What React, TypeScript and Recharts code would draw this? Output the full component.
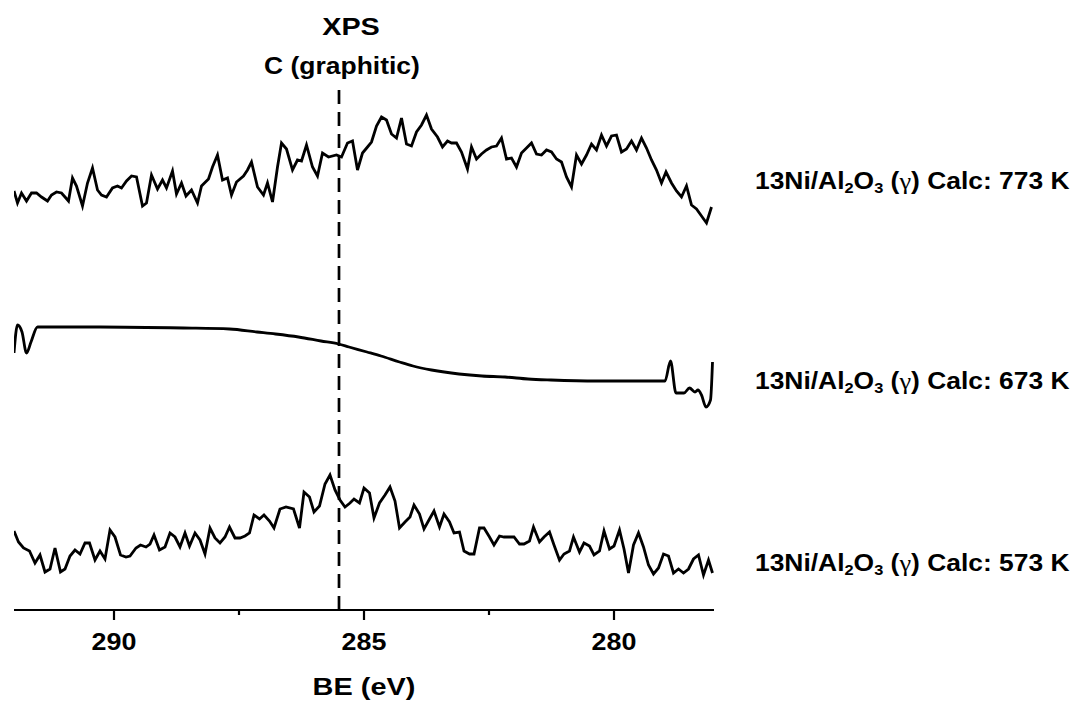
import React from 'react'
import { LineChart, Line, XAxis, YAxis, ReferenceLine } from 'recharts'

// binding energy (eV), stacked intensity (a.u.)
const CALC_773: [number, number][] = [
  [292.0, 419], [291.93, 407], [291.85, 417], [291.75, 409], [291.65, 417], [291.55, 417], [291.45, 413], [291.33, 409], [291.25, 415], [291.15, 418],
  [291.05, 417], [290.98, 413], [290.91, 409], [290.83, 432], [290.75, 424], [290.63, 404], [290.53, 427], [290.43, 442], [290.33, 420], [290.25, 415],
  [290.15, 413], [290.03, 422], [289.93, 424], [289.85, 422], [289.75, 429], [289.65, 434], [289.55, 433], [289.43, 404], [289.35, 407], [289.25, 435],
  [289.13, 421], [289.03, 430], [288.95, 422], [288.83, 439], [288.75, 416], [288.65, 427], [288.56, 414], [288.45, 420], [288.33, 407], [288.25, 424],
  [288.11, 431], [288.03, 443], [287.93, 455], [287.83, 430], [287.73, 432], [287.65, 415], [287.55, 428], [287.41, 434], [287.33, 440], [287.25, 448],
  [287.13, 423], [287.01, 415], [286.93, 427], [286.83, 408], [286.73, 443], [286.65, 467], [286.55, 461], [286.43, 440], [286.33, 450], [286.25, 449],
  [286.15, 465], [286.03, 443], [285.93, 434], [285.83, 457], [285.71, 453], [285.55, 455], [285.45, 453], [285.33, 467], [285.23, 469], [285.13, 440],
  [285.03, 457], [284.93, 463], [284.85, 468], [284.75, 484], [284.65, 493], [284.55, 490], [284.45, 476], [284.35, 472], [284.25, 492], [284.15, 466],
  [284.05, 464], [283.95, 478], [283.85, 485], [283.75, 495], [283.65, 481], [283.53, 473], [283.43, 463], [283.33, 469], [283.25, 467], [283.15, 467],
  [283.05, 458], [282.93, 441], [282.85, 463], [282.75, 451], [282.65, 456], [282.55, 460], [282.45, 463], [282.35, 464], [282.25, 472], [282.15, 451],
  [282.05, 452], [281.95, 443], [281.85, 457], [281.75, 462], [281.65, 467], [281.55, 456], [281.45, 455], [281.35, 460], [281.25, 458], [281.15, 451],
  [281.05, 448], [280.95, 433], [280.85, 423], [280.75, 455], [280.65, 446], [280.55, 455], [280.45, 466], [280.35, 460], [280.25, 475], [280.15, 464],
  [280.05, 474], [279.95, 475], [279.85, 458], [279.75, 461], [279.65, 469], [279.55, 460], [279.45, 472], [279.35, 462], [279.25, 450], [279.15, 440],
  [279.05, 427], [278.96, 438], [278.85, 427], [278.75, 419], [278.65, 413], [278.55, 424], [278.45, 405], [278.35, 401], [278.25, 394], [278.15, 387],
  [278.05, 403],
]

const CALC_673: [number, number][] = [
  [292.0, 257], [291.93, 285], [291.84, 278], [291.75, 257], [291.66, 268], [291.53, 283], [290.28, 283], [288.61, 282], [287.69, 281], [287.14, 278],
  [286.77, 276], [286.31, 273], [285.86, 269], [285.51, 266], [285.3, 263], [284.94, 258], [284.66, 254], [284.29, 248], [284.02, 244], [283.65, 240],
  [283.1, 236], [282.64, 234], [282.18, 233], [281.72, 231], [281.26, 230], [280.34, 229], [278.98, 229], [278.87, 249], [278.76, 217], [278.6, 217],
  [278.49, 222], [278.38, 218], [278.32, 220], [278.25, 215], [278.16, 203], [278.07, 210], [278.03, 248],
]

const CALC_573: [number, number][] = [
  [292.0, 79], [291.91, 68], [291.81, 62], [291.69, 59], [291.58, 47], [291.48, 55], [291.38, 38], [291.28, 41], [291.18, 62], [291.07, 38],
  [290.98, 41], [290.88, 54], [290.78, 60], [290.68, 56], [290.58, 67], [290.49, 67], [290.38, 50], [290.28, 59], [290.18, 51], [290.08, 80],
  [289.98, 73], [289.87, 55], [289.76, 53], [289.68, 54], [289.56, 62], [289.47, 65], [289.36, 63], [289.28, 66], [289.2, 75], [289.09, 60],
  [288.98, 63], [288.88, 77], [288.78, 73], [288.68, 63], [288.58, 77], [288.49, 64], [288.38, 77], [288.28, 70], [288.18, 56], [288.08, 82],
  [287.98, 72], [287.88, 67], [287.78, 73], [287.69, 83], [287.58, 72], [287.48, 72], [287.38, 74], [287.29, 77], [287.2, 95], [287.09, 91],
  [287.0, 95], [286.89, 89], [286.8, 82], [286.68, 101], [286.56, 103], [286.41, 101], [286.29, 82], [286.2, 118], [286.09, 113], [286.0, 98],
  [285.89, 104], [285.78, 126], [285.68, 135], [285.58, 120], [285.48, 110], [285.38, 103], [285.28, 107], [285.2, 111], [285.09, 107], [285.0, 122],
  [284.89, 117], [284.8, 92], [284.69, 107], [284.58, 115], [284.48, 123], [284.38, 109], [284.29, 82], [284.18, 88], [284.08, 93], [284.0, 105],
  [283.89, 96], [283.8, 81], [283.69, 91], [283.6, 99], [283.49, 83], [283.4, 96], [283.29, 88], [283.2, 77], [283.09, 78], [283.0, 59],
  [282.89, 56], [282.8, 56], [282.69, 82], [282.6, 82], [282.49, 73], [282.4, 65], [282.29, 74], [282.2, 73], [282.09, 73], [282.0, 73],
  [281.89, 66], [281.8, 66], [281.69, 69], [281.61, 83], [281.49, 68], [281.4, 73], [281.29, 78], [281.2, 65], [281.09, 50], [281.0, 56],
  [280.89, 59], [280.81, 73], [280.69, 58], [280.6, 67], [280.49, 64], [280.4, 55], [280.29, 59], [280.2, 79], [280.09, 61], [280.0, 64],
  [279.89, 80], [279.8, 61], [279.71, 37], [279.61, 65], [279.51, 77], [279.41, 63], [279.31, 45], [279.21, 36], [279.11, 42], [279.01, 56],
  [278.91, 54], [278.81, 37], [278.71, 41], [278.61, 37], [278.51, 41], [278.41, 51], [278.31, 55], [278.21, 35], [278.11, 50], [278.03, 37],
]

const X_TICKS = [290, 287.5, 285, 282.5, 280]
const GRAPHITIC_BE = 285.5
const SAMPLE = '13Ni/Al'
const TEMPS = ['773 K', '673 K', '573 K']

const toRows = (s: [number, number][]) => s.map(([be, v]) => ({ be, v }))

const FONT = '"Liberation Sans", Arial, sans-serif'

function AxisTick(props: any) {
  const { x, y, payload } = props
  const major = payload.value % 5 === 0
  return (
    <g>
      <line x1={x} x2={x} y1={y} y2={y + (major ? 10 : 5)} stroke="#000" strokeWidth={2.2} />
      {major && (
        <text
          transform={`translate(${x},${y + 40}) scale(1.12,1)`}
          textAnchor="middle"
          fontSize={24}
          fontWeight="bold"
          fontFamily={FONT}
          fill="#000"
        >
          {payload.value}
        </text>
      )}
    </g>
  )
}

function SampleLabel({ temp, top }: { temp: string; top: number }) {
  return (
    <div
      style={{
        position: 'absolute', left: 755, top, fontSize: 24, lineHeight: 1, fontWeight: 'bold', whiteSpace: 'nowrap',
        transform: 'scaleX(1.1)', transformOrigin: 'left center',
      }}
    >
      {SAMPLE}
      <span style={{ fontSize: '0.62em', position: 'relative', top: '0.3em' }}>2</span>O
      <span style={{ fontSize: '0.62em', position: 'relative', top: '0.3em' }}>3</span>{' '}
      (<span style={{ fontFamily: '"Liberation Serif", serif', fontWeight: 'normal' }}>γ</span>) Calc: {temp}
    </div>
  )
}

const centered = (left: number, top: number, size: number, sx: number): React.CSSProperties => ({
  position: 'absolute', left, top, fontSize: size, lineHeight: 1, fontWeight: 'bold', whiteSpace: 'nowrap',
  transform: `translateX(-50%) scaleX(${sx})`,
})

export default function App() {
  return (
    <div style={{ position: 'absolute', left: 0, top: 0, width: 1074, height: 702, background: '#fff', fontFamily: FONT, color: '#000' }}>
      <LineChart width={1074} height={702} margin={{ top: 85, right: 360, bottom: 0, left: 14 }}>
        <XAxis
          dataKey="be"
          type="number"
          domain={[278, 292]}
          reversed
          ticks={X_TICKS}
          interval={0}
          allowDataOverflow
          height={92}
          tickSize={0}
          tickMargin={0}
          tick={<AxisTick />}
          axisLine={{ stroke: '#000', strokeWidth: 2.2 }}
        />
        <YAxis hide type="number" domain={[0, 525]} />
        <ReferenceLine x={GRAPHITIC_BE} stroke="#000" strokeWidth={2.7} strokeDasharray="14 8" />
        <Line data={toRows(CALC_773)} dataKey="v" type="linear" stroke="#000" strokeWidth={2.8} dot={false} isAnimationActive={false} />
        <Line data={toRows(CALC_673)} dataKey="v" type="monotone" stroke="#000" strokeWidth={2.8} dot={false} isAnimationActive={false} />
        <Line data={toRows(CALC_573)} dataKey="v" type="linear" stroke="#000" strokeWidth={2.8} dot={false} isAnimationActive={false} />
      </LineChart>
      <div style={centered(351, 15, 24, 1.2)}>XPS</div>
      <div style={centered(342, 55, 23, 1.15)}>C (graphitic)</div>
      <div style={centered(364, 675, 24.5, 1.18)}>BE (eV)</div>
      <SampleLabel temp={TEMPS[0]} top={169} />
      <SampleLabel temp={TEMPS[1]} top={369} />
      <SampleLabel temp={TEMPS[2]} top={551} />
    </div>
  )
}
